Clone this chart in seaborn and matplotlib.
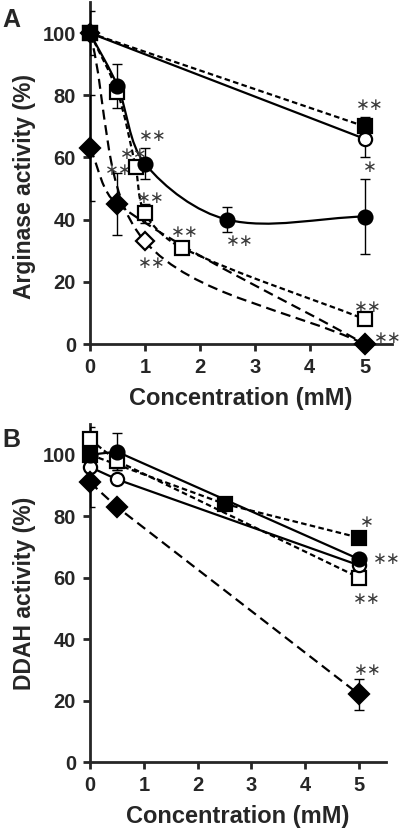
import numpy as np
import matplotlib
matplotlib.use("Agg")
import matplotlib.pyplot as plt
from matplotlib.path import Path
from matplotlib.patches import PathPatch
import seaborn as sns

sns.set_style("ticks")
plt.rcParams['font.family'] = ['Liberation Sans', 'DejaVu Sans']
plt.rcParams['font.weight'] = 'bold'

# panel A - arginase activity
a_fsq_x = [0, 5]
a_fsq_y = [100, 70]
a_fsq_err = [0, 3]
a_ocirc_x = [0, 5]
a_ocirc_y = [100, 66]
a_ocirc_err = [0, 6]
a_fcirc_x = [0, 0.5, 1, 2.5, 5]
a_fcirc_y = [100, 83, 58, 40, 41]
a_fcirc_err = [7, 7, 5, 4, 12]
a_osq_x = [0, 0.5, 0.83, 1, 1.67, 5]
a_osq_y = [100, 81, 57, 42, 31, 8]
a_osq_err = [0, 0, 0, 3, 0, 0]
a_odia_x = [0, 1, 5]
a_odia_y = [100, 33, 0]
a_fdia_x = [0, 0.5, 5]
a_fdia_y = [63, 45, 0]
a_fdia_err = [17, 10, 0]

# significance marks, panel A
a_star_x = [5.1, 5.1, 1.15, 0.8, 0.52, 1.1, 1.72, 2.72, 1.12, 5.05, 5.42]
a_star_y = [77, 57, 67, 61, 56, 47, 36, 33, 26, 12, 2]
a_star_txt = ["∗∗", "∗", "∗∗", "∗∗", "∗∗", "∗∗", "∗∗", "∗∗", "∗∗", "∗∗", "∗∗"]

# panel B - DDAH activity
b_fsq_x = [0, 2.5, 5]
b_fsq_y = [100, 84, 73]
b_fcirc_x = [0, 0.5, 5]
b_fcirc_y = [100, 101, 66]
b_fcirc_err = [0, 6, 0]
b_ocirc_x = [0, 0.5, 5]
b_ocirc_y = [96, 92, 64]
b_osq_x = [0, 0.5, 5]
b_osq_y = [105, 98, 60]
b_osq_err = [4, 3, 0]
b_fdia_x = [0, 0.5, 5]
b_fdia_y = [91, 83, 22]
b_fdia_err = [8, 0, 5]

b_star_x = [5.15, 5.52, 5.15, 5.17]
b_star_y = [78, 66, 53, 30]
b_star_txt = ["∗", "∗∗", "∗∗", "∗∗"]

SHORT = (0, (2.5, 1.5))
LONG = (0, (4.5, 2.5))


def smooth_path(ax, xs, ys):
    # excel-like smoothed line, control points worked out on screen
    tr = ax.transData
    pts = tr.transform(np.column_stack([xs, ys]).astype(float))
    n = len(pts)
    verts = [pts[0]]
    codes = [Path.MOVETO]

    def tangent(i):
        a = pts[max(i - 1, 0)]
        b = pts[i]
        c = pts[min(i + 1, n - 1)]
        return a, b, c

    for i in range(n - 1):
        p1, p2 = pts[i], pts[i + 1]
        d12 = np.hypot(*(p2 - p1))
        a, b, c = tangent(i)
        d01 = np.hypot(*(b - a))
        c1 = p1 + (c - a) * d12 / (d01 + d12) / 3
        a, b, c = tangent(i + 1)
        d23 = np.hypot(*(c - b))
        c2 = p2 - (c - a) * d12 / (d12 + d23) / 3
        verts += [c1, c2, p2]
        codes += [Path.CURVE4] * 3
    verts = tr.inverted().transform(np.array(verts))
    return Path(verts, codes)


def curve(ax, xs, ys, ls):
    ax.add_patch(PathPatch(smooth_path(ax, xs, ys), fill=False, lw=1.6,
                           ls=ls, ec="black", zorder=2))


def straight(ax, xs, ys, ls):
    sns.lineplot(x=xs, y=ys, ax=ax, color="black", lw=1.6, linestyle=ls,
                 sort=False, estimator=None, zorder=2)


def marks(ax, xs, ys, marker, filled, size, err=None):
    if err is not None:
        ax.errorbar(xs, ys, yerr=err, fmt="none", ecolor="black",
                    elinewidth=1, capsize=3.5, capthick=1, zorder=3)
    ax.plot(xs, ys, ls="none", marker=marker, ms=size,
            mfc="black" if filled else "white", mec="black", mew=1.6,
            zorder=4, clip_on=False)


def stars(ax, xs, ys, txts):
    for x, y, t in zip(xs, ys, txts):
        ax.text(x, y, t, ha="center", va="center", fontsize=12,
                color="#3a3a3a", family="DejaVu Sans", fontweight="normal",
                clip_on=False)


def style(ax, ylab):
    ax.set_xlim(0, 5.5)
    ax.set_ylim(0, 110)
    ax.set_xticks([0, 1, 2, 3, 4, 5])
    ax.set_yticks([0, 20, 40, 60, 80, 100])
    for s in ["top", "right"]:
        ax.spines[s].set_visible(False)
    for s in ["left", "bottom"]:
        ax.spines[s].set_linewidth(2)
    ax.tick_params(axis="both", width=2, length=5, labelsize=14.5, pad=5)
    ax.set_xlabel("Concentration (mM)", fontsize=17, fontweight="bold", labelpad=7)
    ax.set_ylabel(ylab, fontsize=16.5, fontweight="bold", labelpad=5)


fig = plt.figure(figsize=(4.02, 8.34), dpi=100)
axA = fig.add_axes([90 / 402, 490 / 834, 302 / 402, 342 / 834])
axB = fig.add_axes([90 / 402, 72 / 834, 296 / 402, 338 / 834])
for ax in (axA, axB):
    ax.set_xlim(0, 5.5)
    ax.set_ylim(0, 110)

# ---- A
straight(axA, a_fsq_x, a_fsq_y, SHORT)
straight(axA, a_ocirc_x, a_ocirc_y, "-")
curve(axA, a_fcirc_x, a_fcirc_y, "-")
curve(axA, a_osq_x, a_osq_y, SHORT)
curve(axA, a_odia_x, a_odia_y, LONG)
curve(axA, a_fdia_x, a_fdia_y, LONG)

marks(axA, a_odia_x, a_odia_y, "D", False, 9.5)
marks(axA, a_fdia_x, a_fdia_y, "D", True, 10, a_fdia_err)
marks(axA, a_osq_x, a_osq_y, "s", False, 9.5, a_osq_err)
marks(axA, a_ocirc_x, a_ocirc_y, "o", False, 9.5, a_ocirc_err)
marks(axA, a_fcirc_x, a_fcirc_y, "o", True, 10, a_fcirc_err)
marks(axA, a_fsq_x, a_fsq_y, "s", True, 10, a_fsq_err)
stars(axA, a_star_x, a_star_y, a_star_txt)
style(axA, "Arginase activity (%)")
axA.yaxis.label.set_y(0.46)

# ---- B
straight(axB, b_fsq_x, b_fsq_y, SHORT)
straight(axB, b_fcirc_x, b_fcirc_y, "-")
straight(axB, b_ocirc_x, b_ocirc_y, "-")
straight(axB, b_osq_x, b_osq_y, SHORT)
straight(axB, b_fdia_x, b_fdia_y, LONG)

marks(axB, b_osq_x, b_osq_y, "s", False, 9.5, b_osq_err)
marks(axB, b_ocirc_x, b_ocirc_y, "o", False, 9.5)
marks(axB, b_fsq_x, b_fsq_y, "s", True, 10)
marks(axB, b_fcirc_x, b_fcirc_y, "o", True, 10, b_fcirc_err)
marks(axB, b_fdia_x, b_fdia_y, "D", True, 10, b_fdia_err)
stars(axB, b_star_x, b_star_y, b_star_txt)
style(axB, "DDAH activity (%)")

fig.text(2 / 402, 1 - 27 / 834, "A", fontsize=18, fontweight="bold")
fig.text(2 / 402, 1 - 447 / 834, "B", fontsize=18, fontweight="bold")

fig.savefig("out.png", dpi=100)
